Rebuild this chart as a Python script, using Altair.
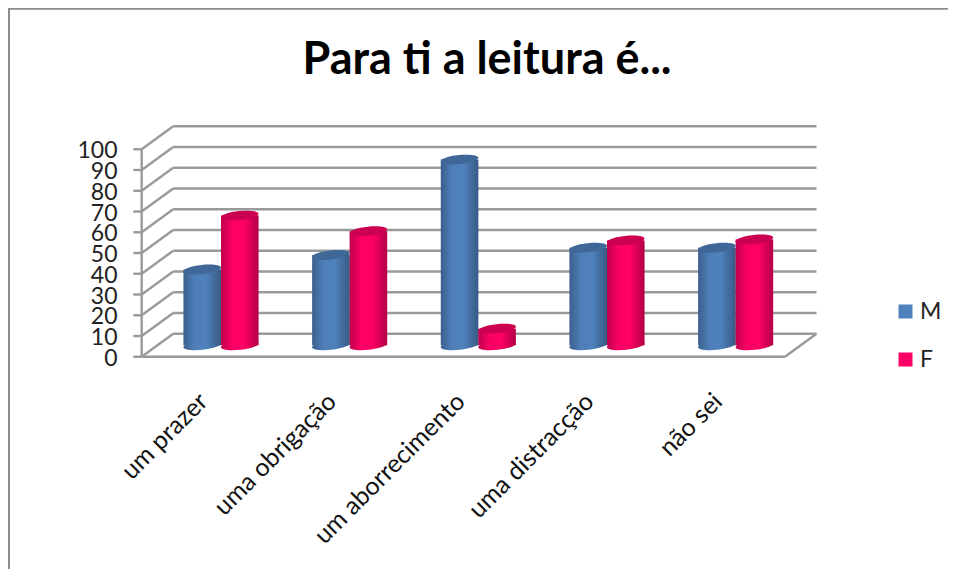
import json
import altair as alt
import pandas as pd

categories = ["um prazer", "uma obrigação", "um aborrecimento", "uma distracção", "não sei"]
series_names = ["M", "F"]
values_m = [36.5, 43.5, 89.5, 47, 47]
values_f = [62.5, 55, 8, 50.5, 51]
y_ticks = list(range(0, 101, 10))
title_text = "Para ti a leitura é..."

FONT = "Lato"
BLUE, RED = "#4F81BD", "#FF0066"
GRID = "#9a9a9a"
X_DOMAIN = [-1.039, 6.267]
Y_DOMAIN = [-102.3, 168.1]
DEPTH_X, DEPTH_Y = 0.245, 11.1
BAR_W = 0.2915
SIZE = 1406

rows = []
for i, c in enumerate(categories):
    for j, (s, vals) in enumerate(zip(series_names, (values_m, values_f))):
        x0 = i + 0.494 + DEPTH_X / 2 + (j - 1) * BAR_W
        rows.append({"categoria": c, "serie": s, "valor": vals[i], "x0": x0, "x1": x0 + BAR_W,
                     "xm": x0 + BAR_W / 2, "base": DEPTH_Y / 2, "top": vals[i] + DEPTH_Y / 2})
bars = pd.DataFrame(rows)

lines = []
for v in y_ticks:
    lines.append(dict(x=DEPTH_X, x2=5 + DEPTH_X, y=v + DEPTH_Y, y2=v + DEPTH_Y))
    lines.append(dict(x=0, x2=DEPTH_X, y=v, y2=v + DEPTH_Y))
    lines.append(dict(x=-0.065, x2=0, y=v, y2=v))
lines.append(dict(x=0, x2=0, y=0, y2=100))
lines.append(dict(x=0, x2=5, y=0, y2=0))
lines.append(dict(x=5, x2=5 + DEPTH_X, y=0, y2=DEPTH_Y))
lines = pd.DataFrame(lines)

frame = pd.DataFrame([
    dict(x=X_DOMAIN[0] + 0.006, x2=X_DOMAIN[0] + 0.006, y=Y_DOMAIN[0], y2=Y_DOMAIN[1]),
    dict(x=X_DOMAIN[0], x2=X_DOMAIN[1], y=Y_DOMAIN[1] - 0.3, y2=Y_DOMAIN[1] - 0.3),
])

names_js = json.dumps(categories, ensure_ascii=False)
x_enc = alt.X("x:Q", scale=alt.Scale(domain=X_DOMAIN, nice=False, zero=False), axis=alt.Axis(
    title=None, values=[i + 0.5 for i in range(len(categories))],
    labelExpr=f"{names_js}[floor(datum.value)]", labelAngle=-45, labelAlign="right", labelBaseline="middle",
    labelFont=FONT, labelFontSize=25, labelColor="#111111", labelOffset=-3, labelPadding=0, labelOverlap=False,
    labelBound=False, labelFlush=False, labelLimit=400, ticks=False, domain=False, grid=False, offset=-172))
y_enc = alt.Y("y:Q", scale=alt.Scale(domain=Y_DOMAIN, nice=False, zero=False), axis=alt.Axis(
    title=None, values=y_ticks, labelFont=FONT, labelFontSize=23, labelColor="#222222", labelPadding=0,
    labelOffset=1.5, ticks=False, domain=False, grid=False, offset=-109, labelOverlap=False,
    labelBound=False, labelFlush=False))

color = alt.Color("serie:N", scale=alt.Scale(domain=series_names, range=[BLUE, RED]), legend=alt.Legend(
    title=None, orient="none", legendX=886, legendY=292, symbolType="square", symbolSize=196,
    symbolStrokeWidth=0, labelFont=FONT, labelFontSize=23, labelColor="#222222", labelOffset=3, rowPadding=24))

shade = alt.LinearGradient(gradient="linear", x1=0, x2=1, y1=0, y2=0, stops=[
    alt.GradientStop(offset=0, color="rgba(0,0,0,0.26)"),
    alt.GradientStop(offset=0.3, color="rgba(0,0,0,0.02)"),
    alt.GradientStop(offset=0.6, color="rgba(0,0,0,0)"),
    alt.GradientStop(offset=1, color="rgba(0,0,0,0.3)"),
])
ELLIPSE = "M -1 0.105 A 1 0.24 -6 1 1 1 -0.105 A 1 0.24 -6 1 1 -1 0.105 Z"

grid_layer = alt.Chart(lines).mark_rule(color=GRID, strokeWidth=2.4).encode(
    x=x_enc, x2="x2:Q", y=y_enc, y2="y2:Q")
frame_layer = alt.Chart(frame).mark_rule(color="#8c8c8c", strokeWidth=2.5).encode(
    x=alt.X("x:Q"), x2="x2:Q", y=alt.Y("y:Q"), y2="y2:Q")

base = alt.Chart(bars)
px = alt.X("xm:Q")
py_base = alt.Y("base:Q")
py_top = alt.Y("top:Q")
bottom = base.mark_point(shape=ELLIPSE, size=SIZE, filled=True, opacity=1, strokeWidth=0).encode(
    x=px, y=py_base, color=color)
bottom_shade = base.mark_point(shape=ELLIPSE, size=SIZE, filled=True, opacity=1, strokeWidth=0, fill=shade).encode(
    x=px, y=py_base)
body = base.mark_rect().encode(x=alt.X("x0:Q"), x2="x1:Q", y=py_base, y2="top:Q", color=color)
body_shade = base.mark_rect(fill=shade).encode(x=alt.X("x0:Q"), x2="x1:Q", y=py_base, y2="top:Q")
top = base.mark_point(shape=ELLIPSE, size=SIZE, filled=True, opacity=1, strokeWidth=0).encode(
    x=px, y=py_top, color=color)
top_dark = base.mark_point(shape=ELLIPSE, size=SIZE, filled=True, opacity=0.2, strokeWidth=0, color="black").encode(
    x=px, y=py_top)

chart = alt.layer(grid_layer, frame_layer, bottom, bottom_shade, body, body_shade, top, top_dark).properties(
    width=940, height=561, padding=0, autosize=alt.AutoSizeParams(type="none"),
    title=alt.TitleParams(title_text, font=FONT, fontSize=45, fontWeight="bold", color="black",
                          anchor="middle", dx=9, dy=112, offset=0, baseline="alphabetic"),
).configure_view(stroke=None).configure(background="white")

chart.save("out.html", embed_options={"renderer": "svg", "actions": False})
